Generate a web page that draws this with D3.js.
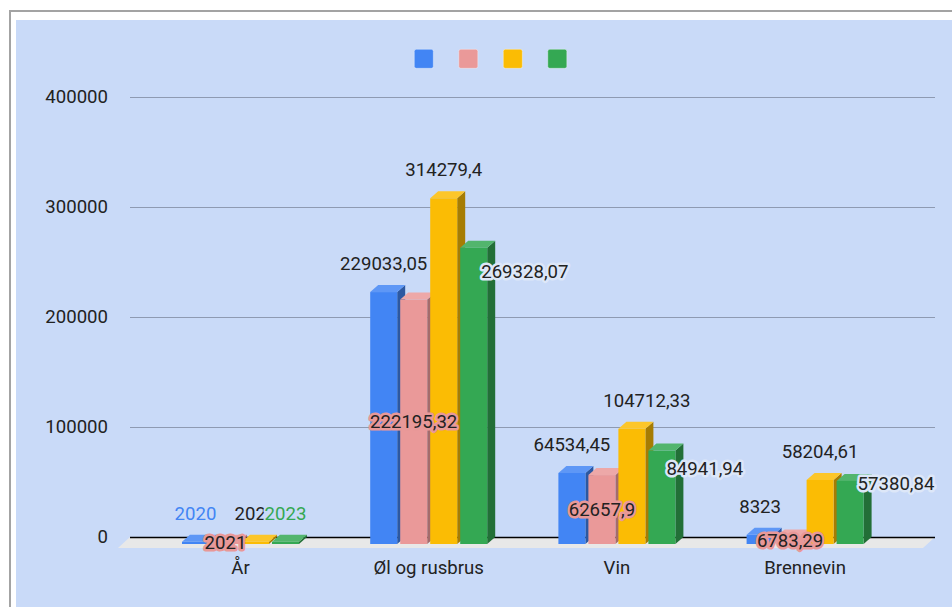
<!DOCTYPE html>
<html>
<head>
<meta charset="utf-8">
<script src="https://cdn.jsdelivr.net/npm/d3@7"></script>
<style>
  body { margin: 0; background: #fff; }
  text { font-family: Roboto, "Noto Sans", sans-serif; }
</style>
</head>
<body>
<div id="chart"></div>
<script>
// data
var categories = ["År", "Øl og rusbrus", "Vin", "Brennevin"];
var series1 = [2020, 229033.05, 64534.45, 8323];
var series2 = [2021, 222195.32, 62657.9, 6783.29];
var series3 = [2022, 314279.4, 104712.33, 58204.61];
var series4 = [2023, 269328.07, 84941.94, 57380.84];
var yTicks = [0, 100000, 200000, 300000, 400000];

var allSeries = [series1, series2, series3, series4];
var colors = ["#4285f4", "#ea9999", "#fbbc04", "#34a853"];
var bg = "#c9daf8";

// where each data label sits (google moves them around to avoid overlaps)
var labelPlace = [
    [{m: "above", c: true}, {m: "center"}, {m: "above"}, {m: "above", c: true}],
    [{m: "above"}, {m: "center"}, {m: "above"}, {m: "right", dx: -6, dy: 37}],
    [{m: "above"}, {m: "center"}, {m: "above", dx: 15}, {m: "right", dx: -9, dy: 31}],
    [{m: "above"}, {m: "center"}, {m: "above"}, {m: "right", dx: -6, dy: 16}]
];

var W = 952, H = 607;
var depthX = 8, depthY = 7;   // 3d offset of the bars
var plotLeft = 130, plotRight = 935;
var fontSize = "18.6px";

var svg = d3.select("#chart").append("svg")
    .attr("width", W).attr("height", H);

svg.append("rect").attr("width", W).attr("height", H).attr("fill", "#fff");
svg.append("rect")
    .attr("x", 10).attr("y", 11).attr("width", W + 20).attr("height", H + 20)
    .attr("fill", "#fff").attr("stroke", "#a3a3a3").attr("stroke-width", 2);
svg.append("rect")
    .attr("x", 16).attr("y", 20).attr("width", W).attr("height", H)
    .attr("fill", bg);

var y = d3.scaleLinear().domain([0, 400000]).range([537, 97]);

var x0 = d3.scaleBand().domain(categories).range([146.4, 899.2]);
var x1 = d3.scaleBand().domain([0, 1, 2, 3]).range([-58.5, 58.5]).paddingInner(0.1);

// floor
var y0 = y(0);
svg.append("polygon")
    .attr("points", [[plotLeft, y0], [plotRight, y0], [plotRight - 12, y0 + 11], [plotLeft - 12, y0 + 11]].join(" "))
    .attr("fill", "#e8e8e8");

// y axis + gridlines
var yAxis = d3.axisLeft(y)
    .tickValues(yTicks)
    .tickSize(-(plotRight - plotLeft))
    .tickPadding(22)
    .tickFormat(d3.format("d"));

var ga = svg.append("g")
    .attr("transform", "translate(" + plotLeft + ",0)")
    .call(yAxis);
ga.select(".domain").remove();
ga.selectAll(".tick line")
    .attr("stroke", function(d) { return d === 0 ? "#000" : "#8e9ab2"; })
    .attr("stroke-width", function(d) { return d === 0 ? 1.5 : 1.2; });
ga.selectAll(".tick text")
    .attr("fill", "#222")
    .style("font-size", fontSize)
    .style("font-family", "Roboto");

// bars
var bars = svg.append("g");
categories.forEach(function(cat, ci) {
    var gx = x0(cat) + x0.bandwidth() / 2;
    allSeries.forEach(function(s, si) {
        var v = s[ci];
        var fx = gx + x1(si);
        var bw = x1.bandwidth();
        var yb = y(v);
        var front = colors[si];
        var side = d3.interpolateRgb(front, "#000")(si === 1 ? 0.3 : 0.34);
        var top = d3.interpolateRgb(front, "#fff")(0.15);

        bars.append("polygon")
            .attr("points", [[fx + bw, yb + depthY], [fx + bw + depthX, yb], [fx + bw + depthX, y0], [fx + bw, y0 + depthY]].join(" "))
            .attr("fill", side);
        bars.append("polygon")
            .attr("points", [[fx, yb + depthY], [fx + depthX, yb], [fx + bw + depthX, yb], [fx + bw, yb + depthY]].join(" "))
            .attr("fill", top);
        bars.append("rect")
            .attr("x", fx).attr("y", yb + depthY)
            .attr("width", bw).attr("height", y0 - yb)
            .attr("fill", front);
    });
});

// data labels
var fmt = function(v) { return String(v).replace(".", ","); };
var labels = svg.append("g").style("font-size", fontSize);
categories.forEach(function(cat, ci) {
    var gx = x0(cat) + x0.bandwidth() / 2;
    allSeries.forEach(function(s, si) {
        var v = s[ci];
        var p = labelPlace[ci][si];
        var fx = gx + x1(si);
        var bw = x1.bandwidth();
        var yb = y(v);
        var t = labels.append("text").text(fmt(v)).attr("fill", "#222");
        if (p.m === "above") {
            t.attr("x", fx + bw / 2 + (p.dx || 0)).attr("y", yb - 15)
                .attr("text-anchor", "middle");
            if (p.c) {
                t.attr("fill", colors[si])
                    .attr("stroke", bg).attr("stroke-width", 4)
                    .attr("stroke-linejoin", "round")
                    .style("paint-order", "stroke");
            }
        } else if (p.m === "center") {
            t.attr("x", fx + bw / 2).attr("y", (yb + y0) / 2 + depthY)
                .attr("dy", "0.35em")
                .attr("text-anchor", "middle")
                .attr("stroke", "#e89898").attr("stroke-width", 5)
                .attr("stroke-linejoin", "round")
                .style("paint-order", "stroke");
        } else {
            t.attr("x", fx + bw + p.dx).attr("y", yb + p.dy)
                .attr("text-anchor", "start")
                .attr("stroke", "#dde7f8").attr("stroke-width", 5)
                .attr("stroke-linejoin", "round")
                .style("paint-order", "stroke");
        }
    });
});

// category labels
svg.append("g").selectAll("text")
    .data(categories)
    .enter()
    .append("text")
    .attr("x", function(d) { return x0(d) + x0.bandwidth() / 2; })
    .attr("y", 574)
    .attr("text-anchor", "middle")
    .attr("fill", "#222")
    .style("font-size", fontSize)
    .text(function(d) { return d; });

// legend, no series names, only swatches
svg.append("g").selectAll("rect")
    .data(colors)
    .enter()
    .append("rect")
    .attr("x", function(d, i) { return 414.3 + i * 44.5; })
    .attr("y", 49.3)
    .attr("width", 19).attr("height", 19)
    .attr("rx", 2)
    .attr("fill", function(d) { return d; })
    .attr("stroke", "rgba(255,255,255,0.35)")
    .attr("stroke-width", 1);
</script>
</body>
</html>
